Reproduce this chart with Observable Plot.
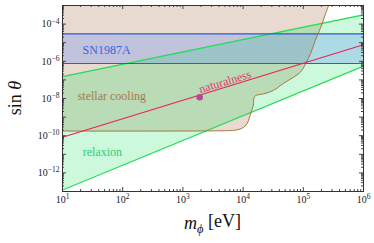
<!DOCTYPE html>
<html><head><meta charset="utf-8">
<script src="https://cdn.jsdelivr.net/npm/d3@7"></script>
<script src="https://cdn.jsdelivr.net/npm/@observablehq/plot@0.6"></script>
<style>body{margin:0;background:#fff} svg{display:block}</style>
</head><body><div id="chart"></div>
<script>
// ---- data ----
const xDomain = [1e1, 1e6];
const yDomain = [1e-13, 1e-3];
const xTickValues = [1e1, 1e2, 1e3, 1e4, 1e5, 1e6];
const xTickLabels = ["10^1", "10^2", "10^3", "10^4", "10^5", "10^6"];
const yTickValues = [1e-12, 1e-10, 1e-8, 1e-6, 1e-4];
const yTickLabels = ["10^-12", "10^-10", "10^-8", "10^-6", "10^-4"];

// stellar cooling excluded region boundary (closed along the top edge)
const stellarMass = [10, 10, 4170, 7080, 9120, 1.10e4, 1.23e4, 1.35e4, 1.48e4, 1.51e4, 1.62e4, 2.19e4, 3.16e4, 4.68e4, 6.92e4, 8.91e4, 1.10e5, 1.32e5, 1.58e5, 1.95e5, 2.34e5, 2.63e5];
const stellarSin  = [1e-3, 1.78e-10, 1.84e-10, 1.95e-10, 2.34e-10, 3.47e-10, 6.46e-10, 1.82e-9, 4.17e-9, 1.05e-8, 1.45e-8, 1.78e-8, 2.69e-8, 6.46e-8, 1.41e-7, 2.57e-7, 7.59e-7, 2.63e-6, 1.32e-5, 6.76e-5, 3.55e-4, 1e-3];

const snMass  = [1e1, 1e6];
const snLower = [7.6e-7, 7.6e-7];
const snUpper = [3.0e-5, 3.0e-5];

const relaxionMass  = [1e1, 1e6];
const relaxionLower = [1.2e-13, 5.5e-7];
const relaxionUpper = [1.5e-7, 3.16e-4];

const naturalMass = [1e1, 1e6];
const naturalSin  = [8.3e-11, 7.8e-6];

const pointMass = [1900];
const pointSin  = [1.17e-8];

const labelText = ["SN1987A", "stellar cooling", "relaxion"];
const labelMass = [54, 66, 46];
const labelSin  = [3.8e-6, 1.29e-8, 1.26e-11];
const labelColor = ["#3366dd", "#a57a4e", "#33cc77"];
const naturalLabel = ["naturalness"];
const naturalLabelMass = [5000];
const naturalLabelSin = [8.1e-8];

// ---- build tables ----
const stellar = stellarMass.map((m, i) => ({m, s: stellarSin[i]}));
const stellarEdge = stellar.slice(1);
const sn = snMass.map((m, i) => ({m, lo: snLower[i], hi: snUpper[i]}));
const relax = relaxionMass.map((m, i) => ({m, lo: relaxionLower[i], hi: relaxionUpper[i]}));
const natural = naturalMass.map((m, i) => ({m, s: naturalSin[i]}));
const points = pointMass.map((m, i) => ({m, s: pointSin[i]}));
const labels = labelText.map((t, i) => ({t, m: labelMass[i], s: labelSin[i], c: labelColor[i]}));
const natLabels = naturalLabel.map((t, i) => ({t, m: naturalLabelMass[i], s: naturalLabelSin[i]}));

// minor / major tick positions from the scale decades
const xMajor = [], xMinor = [], yMajor = [], yMinor = [];
for (let e = 1; e <= 6; e++) { xMajor.push(10 ** e); if (e < 6) for (let k = 2; k <= 9; k++) xMinor.push(k * 10 ** e); }
for (let e = -13; e <= -3; e++) { yMajor.push(10 ** e); if (e < -3) for (let k = 2; k <= 9; k++) yMinor.push(k * 10 ** e); }

const W = 374, H = 243, mL = 62, mR = 11, mT = 5, mB = 52;
const pH = H - mT - mB, pW = W - mL - mR;
const xLab = new Map(xTickValues.map((v, i) => [v, xTickLabels[i]]));
const yLab = new Map(yTickValues.map((v, i) => [v, yTickLabels[i]]));
const serif = "Liberation Serif, DejaVu Serif, serif";
const tickColor = "#444";

const chart = Plot.plot({
  width: W, height: H,
  marginLeft: mL, marginRight: mR, marginTop: mT, marginBottom: mB,
  style: {fontFamily: serif, background: "#fff", color: "#222"},
  x: {type: "log", domain: xDomain, label: null},
  y: {type: "log", domain: yDomain, label: null},
  marks: [
    Plot.line(stellar, {x: "m", y: "s", fill: "#8b4513", fillOpacity: 0.2, stroke: "none"}),
    Plot.areaY(relax, {x: "m", y1: "lo", y2: "hi", fill: "#00e050", fillOpacity: 0.2}),
    Plot.areaY(sn, {x: "m", y1: "lo", y2: "hi", fill: "#4a80ff", fillOpacity: 0.25}),
    Plot.line(relax, {x: "m", y: "lo", stroke: "#22dd55", strokeWidth: 1.2}),
    Plot.line(relax, {x: "m", y: "hi", stroke: "#22dd55", strokeWidth: 1.2}),
    Plot.line(sn, {x: "m", y: "lo", stroke: "#2a5fd8", strokeWidth: 1.2}),
    Plot.line(sn, {x: "m", y: "hi", stroke: "#2a5fd8", strokeWidth: 1.2}),
    Plot.line(stellarEdge, {x: "m", y: "s", stroke: "#a8743c", strokeWidth: 1, curve: "catmull-rom"}),
    Plot.line(natural, {x: "m", y: "s", stroke: "#e8245a", strokeWidth: 1.2}),
    Plot.dot(points, {x: "m", y: "s", r: 3.3, fill: "#b04a9a", stroke: "none"}),
    Plot.text(labels, {x: "m", y: "s", text: "t", fill: "c", fontSize: 12, fontFamily: serif, textAnchor: "middle"}),
    Plot.text(natLabels, {x: "m", y: "s", text: "t", fill: "#e03a6a", fontSize: 12, fontFamily: serif, rotate: -17, textAnchor: "middle"}),
    // inward ticks on all four sides
    Plot.tickX(xMajor, {x: d => d, insetTop: pH - 4, stroke: tickColor}),
    Plot.tickX(xMinor, {x: d => d, insetTop: pH - 2, stroke: tickColor}),
    Plot.tickX(xMajor, {x: d => d, insetBottom: pH - 4, stroke: tickColor}),
    Plot.tickX(xMinor, {x: d => d, insetBottom: pH - 2, stroke: tickColor}),
    Plot.tickY(yMajor, {y: d => d, insetRight: pW - 4, stroke: tickColor}),
    Plot.tickY(yMinor, {y: d => d, insetRight: pW - 2, stroke: tickColor}),
    Plot.tickY(yMajor, {y: d => d, insetLeft: pW - 4, stroke: tickColor}),
    Plot.tickY(yMinor, {y: d => d, insetLeft: pW - 2, stroke: tickColor}),
    Plot.axisX(xTickValues, {tickSize: 0, tickPadding: 4, fontSize: 10, fontFamily: serif, tickFormat: d => xLab.get(d), label: null}),
    Plot.axisY(yTickValues, {tickSize: 0, tickPadding: 3, fontSize: 10, fontFamily: serif, tickFormat: d => yLab.get(d), label: null}),
    Plot.frame({stroke: "#333", strokeWidth: 1})
  ]
});
document.getElementById("chart").appendChild(chart);

// superscripts for tick labels
chart.querySelectorAll('g[aria-label="x-axis tick label"] text, g[aria-label="y-axis tick label"] text').forEach(t => {
  const s = t.textContent;
  const k = s.indexOf("^");
  if (k < 0) return;
  const base = s.slice(0, k), exp = s.slice(k + 1).replace("-", "\u2212");
  t.textContent = base;
  const sp = document.createElementNS("http://www.w3.org/2000/svg", "tspan");
  sp.setAttribute("dy", "-0.5em");
  sp.setAttribute("font-size", "7.5");
  sp.textContent = exp;
  t.appendChild(sp);
});

// axis titles
const svg = d3.select(chart);
const yt = svg.append("text")
  .attr("transform", `translate(20.5,${mT + pH / 2}) rotate(-90)`)
  .attr("text-anchor", "middle").attr("font-size", 18).attr("fill", "#111")
  .attr("font-family", serif);
yt.append("tspan").text("sin ");
yt.append("tspan").attr("font-style", "italic").text("θ");
const xt = svg.append("text")
  .attr("x", mL + pW / 2).attr("y", 229)
  .attr("text-anchor", "middle").attr("font-size", 18).attr("fill", "#111")
  .attr("font-family", serif);
xt.append("tspan").attr("font-style", "italic").text("m");
xt.append("tspan").attr("font-style", "italic").attr("font-size", 12.5).attr("dy", "0.28em").text("ϕ");
xt.append("tspan").attr("dy", "-0.28em").text(" [eV]");
</script>
</body></html>
